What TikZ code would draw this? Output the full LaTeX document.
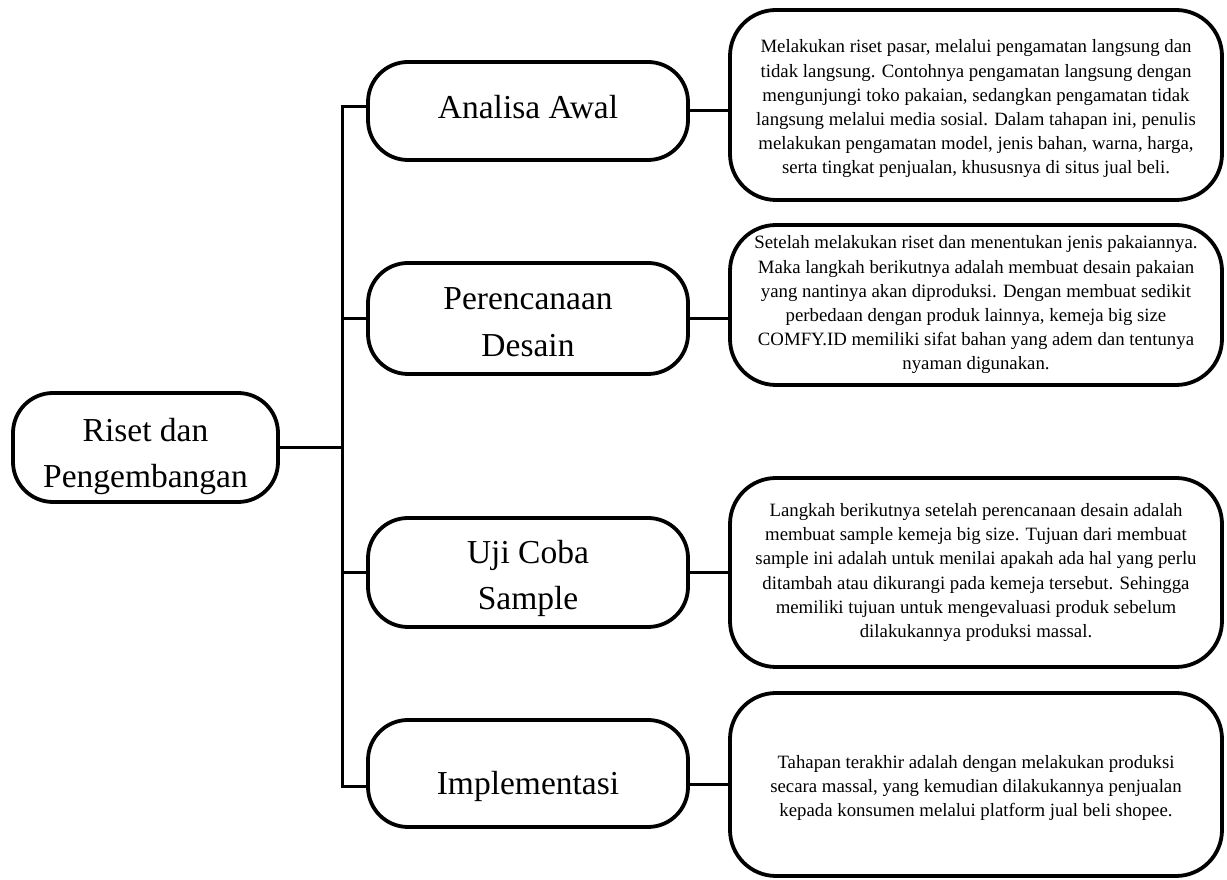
\documentclass[tikz,border=0pt]{standalone}
\usepackage{fontspec}
\setmainfont{Liberation Serif}
\usetikzlibrary{positioning}

% penyangga tinggi (#1) dan kedalaman (#2) baris
\newcommand{\ganjal}[2]{\rule[-#2]{0pt}{\dimexpr#1+#2\relax}}

\tikzset{
  tahap/.style={draw, line width=3.8pt, rounded corners=40pt, minimum width=320pt,
    minimum height=108pt, align=center, inner sep=0pt,
    font=\fontsize{33.5}{46.7}\selectfont},
  ket/.style={draw, line width=3.8pt, rounded corners=46pt, minimum width=492pt,
    align=center, inner sep=0pt, font=\fontsize{18.8}{24.2}\selectfont},
}

\begin{document}
\begin{tikzpicture}[x=1pt, y=1pt, line width=3pt]
\useasboundingbox (0,0) rectangle (1227,880);

% akar
\node[tahap, minimum width=265pt, minimum height=109pt] (riset) at (145.5,432.5) {\ganjal{41pt}{0pt}Riset dan\\Pengembangan};

% tahapan
\node[tahap, minimum height=98pt] (analisa) at (528,769) {\ganjal{0pt}{8pt}Analisa Awal};
\node[tahap, minimum height=111pt] (desain) at (528,561.5) {\ganjal{29pt}{0pt}Perencanaan\\Desain};
\node[tahap, minimum height=109pt] (uji) at (528,307.5) {\ganjal{35pt}{0pt}Uji Coba\\Sample};
\node[tahap, minimum height=107pt] (impl) at (528,106.5) {\ganjal{49pt}{0pt}Implementasi};

% keterangan
\node[ket, minimum height=190pt] (k1) at (976,775) {\ganjal{21pt}{0pt}Melakukan riset pasar, melalui pengamatan langsung dan\\tidak langsung. Contohnya pengamatan langsung dengan\\mengunjungi toko pakaian, sedangkan pengamatan tidak\\langsung melalui media sosial. Dalam tahapan ini, penulis\\melakukan pengamatan model, jenis bahan, warna, harga,\\serta tingkat penjualan, khususnya di situs jual beli.};
\node[ket, minimum height=160pt] (k2) at (976,575) {Setelah melakukan riset dan menentukan jenis pakaiannya.\\Maka langkah berikutnya adalah membuat desain pakaian\\yang nantinya akan diproduksi. Dengan membuat sedikit\\perbedaan dengan produk lainnya, kemeja big size\\COMFY.ID memiliki sifat bahan yang adem dan tentunya\\nyaman digunakan.};
\node[ket, minimum height=189pt] (k3) at (976,307.5) {Langkah berikutnya setelah perencanaan desain adalah\\membuat sample kemeja big size. Tujuan dari membuat\\sample ini adalah untuk menilai apakah ada hal yang perlu\\ditambah atau dikurangi pada kemeja tersebut. Sehingga\\memiliki tujuan untuk mengevaluasi produk sebelum\\dilakukannya produksi massal.};
\node[ket, minimum height=183pt] (k4) at (976,95.5) {\ganjal{20pt}{0pt}Tahapan terakhir adalah dengan melakukan produksi\\secara massal, yang kemudian dilakukannya penjualan\\kepada konsumen melalui platform jual beli shopee.};

% garis
\coordinate (atas) at (342,773);
\coordinate (bawah) at (342,93);
\draw (analisa.west |- atas) -- (atas) -- (bawah) -- (impl.west |- bawah);
\draw (riset) -- (riset -| atas);
\draw (desain) -- (desain -| atas);
\draw (uji) -- (uji -| atas);
\draw (analisa) -- (analisa -| k1.west);
\draw (desain) -- (desain -| k2.west);
\draw (uji) -- (uji -| k3.west);
\draw (k4) -- (k4 -| impl.east);
\end{tikzpicture}
\end{document}
